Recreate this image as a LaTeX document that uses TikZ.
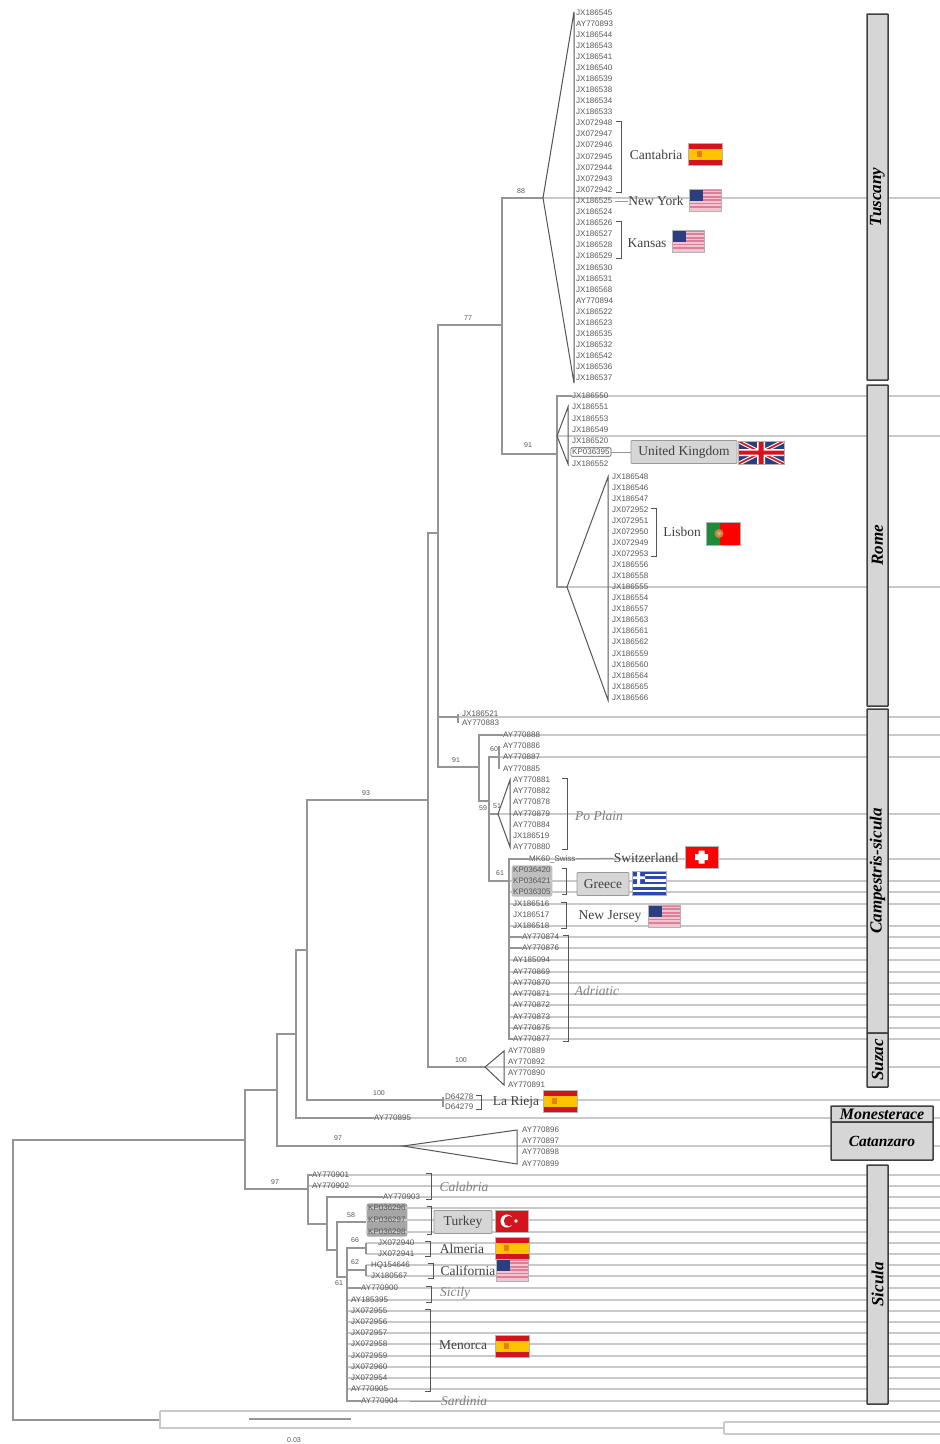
\documentclass[tikz,border=0pt]{standalone}
\usepackage{fontspec}
\usepackage{xcolor}
\usepackage{tikz}
\usetikzlibrary{backgrounds,fit}
\setmainfont{Liberation Serif}
\setsansfont{Liberation Sans}
\definecolor{rowgray}{HTML}{C9C9C9}
\definecolor{treegray}{HTML}{959595}
\definecolor{inkgray}{HTML}{555555}
\definecolor{boxgray}{HTML}{D6D6D6}
\definecolor{spred}{HTML}{D2141E}
\definecolor{spyellow}{HTML}{FFC400}
\definecolor{usblue}{HTML}{2B3F80}
\definecolor{uspink}{HTML}{DC7F98}
\definecolor{uslight}{HTML}{F2C4D0}
\definecolor{ptgreen}{HTML}{1F8A3A}
\definecolor{grblue}{HTML}{2A48B0}

\begin{document}
\begin{tikzpicture}
		[x=1pt,y=-1pt,
		leaf/.style={anchor=west,inner sep=0pt,text=inkgray,font=\sffamily\fontsize{8}{8}\selectfont},
		support/.style={inner sep=0pt,text=inkgray,font=\sffamily\fontsize{7}{7}\selectfont},
		branch/.style={draw=treegray,line width=1.4pt},
		rowline/.style={draw=rowgray,line width=1.7pt},
		cone/.style={draw=inkgray,line width=1pt},
		bracket/.style={draw=inkgray,line width=0.9pt},
		pointer/.style={draw=treegray,line width=1pt},
		place name/.style={inner sep=0pt,text=black!75,font=\fontsize{13.5}{14}\selectfont},
		lineage/.style={inner sep=0pt,text=black!50,font=\itshape\fontsize{13.5}{14}\selectfont},
		grey label/.style={draw=black!40,fill=boxgray,rounded corners=1pt,line width=0.8pt,inner sep=0pt,text=black!75,font=\fontsize{13.5}{14}\selectfont},
		clade/.style={draw=black!75,fill=boxgray,line width=1.5pt,rounded corners=0.5pt,inner sep=0pt,font=\bfseries\itshape\fontsize{17}{17}\selectfont},
		side clade/.style={clade,rotate=90,minimum height=21pt},
		highlight/.style={fill=black!35,rounded corners=2pt,inner sep=1.5pt},
		flag edge/.style={draw=black!30,line width=0.7pt},
		spainflag/.pic={
			\fill[spred] (0,0) rectangle (34,22);
			\fill[spyellow] (0,5.5) rectangle (34,16.5);
			\fill[orange!60!brown] (9,8) rectangle (14,14);
			\draw[flag edge] (0,0) rectangle (34,22);
		},
		usflag/.pic={
			\fill[uslight] (0,0) rectangle (32,22);
			\foreach \bar in {0,3.4,...,20}
				\fill[uspink] (0,\bar) rectangle (32,\bar+1.7);
			\fill[usblue] (0,0) rectangle (14,12);
			\draw[flag edge] (0,0) rectangle (32,22);
		},
		ukflag/.pic={
			\fill[usblue] (0,0) rectangle (46,23);
			\begin{scope}
				\clip (0,0) rectangle (46,23);
				\draw[white,line width=4pt] (0,0) -- (46,23) (46,0) -- (0,23);
				\draw[spred,line width=1.6pt] (0,0) -- (46,23) (46,0) -- (0,23);
			\end{scope}
			\fill[white] (19,0) rectangle (27,23) (0,8) rectangle (46,15);
			\fill[spred] (20.5,0) rectangle (25.5,23) (0,9.5) rectangle (46,13.5);
			\draw[flag edge] (0,0) rectangle (46,23);
		},
		ptflag/.pic={
			\fill[red] (0,0) rectangle (34,23);
			\fill[ptgreen] (0,0) rectangle (14,23);
			\fill[orange!70!gray] (13,11.5) circle (4.5);
			\fill[black!30] (13,11.5) circle (2);
			\draw[flag edge] (0,0) rectangle (34,23);
		},
		swissflag/.pic={
			\fill[red] (0,0) rectangle (33,22);
			\fill[white] (13.5,4.5) rectangle (19.5,17.5) (10,8) rectangle (23,14);
			\draw[flag edge] (0,0) rectangle (33,22);
		},
		greeceflag/.pic={
			\fill[white] (0,0) rectangle (34,24);
			\foreach \bar in {0,5.33,...,22}
				\fill[grblue] (0,\bar) rectangle (34,\bar+2.67);
			\fill[grblue] (0,0) rectangle (13,13.3);
			\fill[white] (5,0) rectangle (8,13.3) (0,5.3) rectangle (13,8);
			\draw[flag edge] (0,0) rectangle (34,24);
		},
		turkeyflag/.pic={
			\fill[spred] (0,0) rectangle (33,22);
			\fill[white] (12,11) circle (6.5);
			\fill[spred] (14,11) circle (5.2);
			\fill[white] (21,11) circle (1.8);
			\draw[flag edge] (0,0) rectangle (33,22);
		}]
		\path[use as bounding box] (0,0) rectangle (940,1444);
		\coordinate (rim) at (940,0);

		\foreach \lbl/\ypos in {JX186545/13,AY770893/24,JX186544/35,JX186543/46,JX186541/57,JX186540/68,JX186539/79,JX186538/90,JX186534/101,JX186533/112,JX072948/123,JX072947/134,JX072946/145,JX072945/157,JX072944/168,JX072943/179,JX072942/190,JX186525/201,JX186524/212,JX186526/223,JX186527/234,JX186528/245,JX186529/256,JX186530/268,JX186531/279,JX186568/290,AY770894/301,JX186522/312,JX186523/323,JX186535/334,JX186532/345,JX186542/356,JX186536/367,JX186537/378}
			\node[leaf] (\lbl) at (576,\ypos) {\lbl};
		\foreach \lbl/\ypos in {JX186550/396,JX186551/407,JX186553/419,JX186549/430,JX186520/441,KP036395/452,JX186552/464}
			\node[leaf] (\lbl) at (572,\ypos) {\lbl};
		\foreach \lbl/\ypos in {JX186548/477,JX186546/488,JX186547/499,JX072952/510,JX072951/521,JX072950/532,JX072949/543,JX072953/554,JX186556/565,JX186558/576,JX186555/587,JX186554/598,JX186557/609,JX186563/620,JX186561/631,JX186562/642,JX186559/654,JX186560/665,JX186564/676,JX186565/687,JX186566/698}
			\node[leaf] (\lbl) at (612,\ypos) {\lbl};
		\foreach \lbl/\ypos in {JX186521/714,AY770883/723}
			\node[leaf] (\lbl) at (462,\ypos) {\lbl};
		\foreach \lbl/\ypos in {AY770888/735,AY770886/746,AY770887/757,AY770885/769}
			\node[leaf] (\lbl) at (503,\ypos) {\lbl};
		\foreach \lbl/\ypos in {AY770881/780,AY770882/791,AY770878/802,AY770879/814,AY770884/825,JX186519/836,AY770880/847,KP036420/870,KP036421/881,KP036305/892,JX186516/904,JX186517/915,JX186518/926,AY185094/960,AY770869/972,AY770870/983,AY770871/994,AY770872/1005,AY770873/1017,AY770875/1028,AY770877/1039}
			\node[leaf] (\lbl) at (513,\ypos) {\lbl};
		\node[leaf] (MK60) at (529,859) {MK60\_Swiss};
		\foreach \lbl/\ypos in {AY770874/937,AY770876/948,AY770896/1130,AY770897/1141,AY770898/1152,AY770899/1164}
			\node[leaf] (\lbl) at (522,\ypos) {\lbl};
		\foreach \lbl/\ypos in {AY770889/1051,AY770892/1062,AY770890/1073,AY770891/1085}
			\node[leaf] (\lbl) at (508,\ypos) {\lbl};
		\foreach \lbl/\ypos in {D64278/1097,D64279/1107}
			\node[leaf] (\lbl) at (445,\ypos) {\lbl};
		\node[leaf] (AY770895) at (374,1118) {AY770895};
		\foreach \lbl/\ypos in {AY770901/1175,AY770902/1186}
			\node[leaf] (\lbl) at (312,\ypos) {\lbl};
		\node[leaf] (AY770903) at (383,1197) {AY770903};
		\foreach \lbl/\ypos in {KP036296/1208,KP036297/1220,KP036298/1232}
			\node[leaf] (\lbl) at (368,\ypos) {\lbl};
		\foreach \lbl/\ypos in {JX072940/1243,JX072941/1254}
			\node[leaf] (\lbl) at (378,\ypos) {\lbl};
		\foreach \lbl/\ypos in {HQ154646/1265,JX180567/1276}
			\node[leaf] (\lbl) at (371,\ypos) {\lbl};
		\foreach \lbl/\ypos in {AY770900/1288,AY770904/1401}
			\node[leaf] (\lbl) at (361,\ypos) {\lbl};
		\foreach \lbl/\ypos in {AY185395/1300,JX072955/1311,JX072956/1322,JX072957/1333,JX072958/1344,JX072959/1356,JX072960/1367,JX072954/1378,AY770905/1389}
			\node[leaf] (\lbl) at (351,\ypos) {\lbl};

		\coordinate (root) at (13,1280);
		\coordinate (n245) at (245,1140);
		\coordinate (outgrp) at (160,1420);
		\coordinate (outtop) at (160,1411);
		\coordinate (outlow) at (160,1428);
		\coordinate (n724) at (724,1428);
		\coordinate (n724a) at (724,1422);
		\coordinate (n724b) at (724,1434);
		\coordinate (n277) at (277,1090);
		\coordinate (n308) at (308,1189);
		\coordinate (n296) at (296,1034);
		\coordinate (catA) at (403,1146);
		\coordinate (n307) at (307,950);
		\coordinate (n428) at (428,800);
		\coordinate (n443) at (443,1100);
		\coordinate (n438) at (438,533);
		\coordinate (suzA) at (485,1067);
		\coordinate (n502) at (502,325);
		\coordinate (n458) at (458,717);
		\coordinate (n479) at (479,767);
		\coordinate (tusA) at (543,198);
		\coordinate (n557) at (557,454);
		\coordinate (romA) at (557,436);
		\coordinate (romB) at (567,587);
		\coordinate (n489) at (489,801);
		\coordinate (n499) at (499,757);
		\coordinate (poA) at (498,814);
		\coordinate (n509) at (509,881);
		\coordinate (n327) at (327,1224);
		\coordinate (n337) at (337,1250);
		\coordinate (n366) at (366,1222);
		\coordinate (n347) at (347,1277);
		\coordinate (nAlm) at (366,1248);
		\coordinate (nCal) at (366,1270);
		\coordinate (scaleL) at (249,1419);
		\coordinate (scaleR) at (351,1419);

		\begin{scope}[on background layer]
			\node[highlight,fit=(KP036296)(KP036298)] (turkeyseq) {};
			\node[highlight,fill=black!25,fit=(KP036420)(KP036305)] (greeceseq) {};
			\foreach \from in {tusA,romA,romB,n458,n499,poA,suzA,n443,catA,outtop,n724a,n724b}
				\draw[rowline] (\from) -- (rim |- \from);
			\draw[rowline] (JX186550.west) -- (rim |- JX186550.west);
			\draw[rowline] (AY770888.west) -- (rim |- AY770888.west);
			\draw[rowline] (AY770895.west) -- (rim |- AY770895.west);
			\foreach \lbl in {MK60,KP036421,KP036305,JX186516,JX186518,AY770874,AY770876,AY185094,AY770869,AY770870,AY770871,AY770872,AY770873,AY770875,AY770877}
				\draw[rowline] (n509 |- \lbl.west) -- (rim |- \lbl.west);
			\foreach \lbl in {AY770901,AY770902}
				\draw[rowline] (n308 |- \lbl.west) -- (rim |- \lbl.west);
			\draw[rowline] (n327 |- AY770903.west) -- (rim |- AY770903.west);
			\foreach \lbl in {KP036296,KP036297,KP036298,JX072940,JX072941,HQ154646,JX180567}
				\draw[rowline] (n366 |- \lbl.west) -- (rim |- \lbl.west);
			\foreach \lbl in {AY770900,AY185395,JX072955,JX072956,JX072957,JX072958,JX072959,JX072960,JX072954,AY770905,AY770904}
				\draw[rowline] (n347 |- \lbl.west) -- (rim |- \lbl.west);
		\end{scope}

		\draw[branch] (root) |- (n245);
		\draw[branch] (root) |- (outgrp);
		\draw[rowline] (outtop) -- (outlow) -- (n724);
		\draw[rowline] (n724a) -- (n724b);
		\draw[branch] (n245) |- (n277);
		\draw[branch] (n245) |- (n308);
		\draw[branch] (n277) |- (n296);
		\draw[branch] (n277) |- (catA);
		\draw[branch] (n296) |- (n307);
		\draw[branch] (n296) |- (AY770895.west);
		\draw[branch] (n307) |- (n428);
		\draw[branch] (n307) |- (n443);
		\draw[branch] (n428) |- (n438);
		\draw[branch] (n428) |- (suzA);
		\draw[branch] (n438) |- (n502);
		\draw[branch] (n438) |- (n458);
		\draw[branch] (n438) |- (n479);
		\draw[branch] (n502) |- (tusA);
		\draw[branch] (n502) |- (n557);
		\draw[branch] (n557) |- (JX186550.west);
		\draw[branch] (n557) |- (romB);
		\draw[branch] (n479) |- (AY770888.west);
		\draw[branch] (n479) |- (n489);
		\draw[branch] (n489) |- (n499);
		\draw[branch] (n489) |- (poA);
		\draw[branch] (n489) |- (n509);
		\draw[branch] (n509) |- (MK60.west);
		\draw[branch] (n509) |- (AY770877.west);
		\draw[branch] (n509 |- AY770874.west) -- (AY770874.west);
		\draw[branch] (n509 |- AY770876.west) -- (AY770876.west);
		\draw[branch] (n308) |- (AY770901.west);
		\draw[branch] (n308) |- (n327);
		\draw[branch] (n327) |- (AY770903.west);
		\draw[branch] (n327) |- (n337);
		\draw[branch] (n337) |- (n366);
		\draw[branch] (n337) |- (n347);
		\draw[branch] (n347) |- (nAlm);
		\draw[branch] (n347) |- (nCal);
		\draw[branch] (n347) |- (AY770904.west);
		\draw[branch] (n347 |- AY770900.west) -- (AY770900.west);
		\draw[branch] (n458 |- JX186521.west) -- (n458 |- AY770883.west);
		\draw[branch] (n499 |- AY770886.west) -- (n499 |- AY770885.west);
		\draw[branch] (n443 |- D64278.west) -- (n443 |- D64279.west);
		\draw[branch] (nAlm |- JX072940.west) -- (nAlm |- JX072941.west);
		\draw[branch] (nCal |- HQ154646.west) -- (nCal |- JX180567.west);
		\draw[branch] (scaleL) -- (scaleR);

		\draw[cone] (tusA) -- ([xshift=-2pt,yshift=1pt]JX186545.west) -- ([xshift=-2pt,yshift=-5pt]JX186537.west) -- cycle;
		\draw[cone] (romA) -- ([xshift=-4pt]JX186551.west) -- ([xshift=-4pt]JX186552.west) -- cycle;
		\draw[cone] (romB) -- ([xshift=-4pt]JX186548.west) -- ([xshift=-4pt,yshift=-2pt]JX186566.west) -- cycle;
		\draw[cone] (poA) -- ([xshift=-3pt]AY770881.west) -- ([xshift=-3pt]AY770880.west) -- cycle;
		\draw[cone] (suzA) -- ([xshift=-4pt]AY770889.west) -- ([xshift=-4pt]AY770891.west) -- cycle;
		\draw[cone] (catA) -- ([xshift=-5pt]AY770896.west) -- ([xshift=-5pt]AY770899.west) -- cycle;

		\node[draw=inkgray,line width=0.6pt,rounded corners=1pt,inner sep=1.2pt,fit=(KP036395)] (ukseq) {};

		\node[support] (b88) at (521,191) {88};
		\node[support] (b77) at (468,318) {77};
		\node[support] (b91a) at (528,445) {91};
		\node[support] (b93) at (366,793) {93};
		\node[support] (b91b) at (456,760) {91};
		\node[support] (b60) at (494,749) {60};
		\node[support] (b59) at (483,808) {59};
		\node[support] (b51) at (497,806) {51};
		\node[support] (b61a) at (500,873) {61};
		\node[support] (b100a) at (461,1060) {100};
		\node[support] (b100b) at (379,1093) {100};
		\node[support] (b97a) at (338,1138) {97};
		\node[support] (b97b) at (275,1182) {97};
		\node[support] (b58) at (351,1215) {58};
		\node[support] (b66) at (355,1240) {66};
		\node[support] (b62) at (355,1262) {62};
		\node[support] (b61b) at (339,1283) {61};
		\node[support] (scalelabel) at (294,1440) {0.03};

		\foreach \first/\last/\gap in {JX072948/JX072942/9,JX186526/JX186529/9,JX072952/JX072953/8,AY770881/AY770880/17,KP036420/KP036305/16,JX186516/JX186518/17,AY770874/AY770877/9,D64278/D64279/8,AY770901/AY770903/82,KP036296/KP036298/26,JX072940/JX072941/16,HQ154646/JX180567/23,AY770900/AY185395/33,JX072955/AY770905/43}
			\draw[bracket] ([xshift=\gap pt-5pt,yshift=2pt]\first.east) -- ([xshift=\gap pt,yshift=2pt]\first.east) -- ([xshift=\gap pt,yshift=-2pt]\first.east |- \last.east) -- ([xshift=\gap pt-5pt,yshift=-2pt]\first.east |- \last.east);

		\node[place name] (cantabria) at (656,155) {Cantabria};
		\node[place name] (newyork) at (656,201) {New York};
		\node[place name] (kansas) at (647,243) {Kansas};
		\node[grey label,minimum width=106pt,minimum height=23pt] (uk) at (684,452) {United Kingdom};
		\node[place name] (lisbon) at (682,532) {Lisbon};
		\node[lineage] (poplain) at (599,816) {Po Plain};
		\node[place name] (switzerland) at (646,858) {Switzerland};
		\node[grey label,minimum width=52pt,minimum height=23pt] (greece) at (603,884) {Greece};
		\node[place name] (newjersey) at (610,917) {New Jersey};
		\node[lineage] (adriatic) at (597,991) {Adriatic};
		\node[place name] (larieja) at (516,1102) {La Rieja};
		\node[lineage] (calabria) at (464,1187) {Calabria};
		\node[grey label,minimum width=58pt,minimum height=23pt] (turkey) at (463,1222) {Turkey};
		\node[place name] (almeria) at (462,1249) {Almeria};
		\node[place name] (california) at (468,1271) {California};
		\node[lineage] (sicily) at (455,1293) {Sicily};
		\node[place name] (menorca) at (463,1345) {Menorca};
		\node[lineage] (sardinia) at (464,1401) {Sardinia};

		\draw[pointer] ([xshift=3pt]JX186525.east) -- (newyork.west);
		\draw[pointer] (ukseq) -- (uk);
		\draw[pointer] (MK60) -- (switzerland);
		\draw[pointer] ([xshift=12pt]AY770904.east) -- (sardinia);

		\pic at (688,143) {spainflag};
		\pic at (689,189) {usflag};
		\pic at (672,230) {usflag};
		\pic at (738,441) {ukflag};
		\pic at (706,522) {ptflag};
		\pic at (685,846) {swissflag};
		\pic at (632,871) {greeceflag};
		\pic at (648,905) {usflag};
		\pic at (543,1090) {spainflag};
		\pic at (495,1210) {turkeyflag};
		\pic at (495,1237) {spainflag};
		\pic at (496,1259) {usflag};
		\pic at (495,1335) {spainflag};

		\node[side clade,minimum width=366pt] (tuscany) at (877.5,197) {Tuscany};
		\node[side clade,minimum width=321pt] (rome) at (877.5,545.5) {Rome};
		\node[side clade,minimum width=324pt] (campestris) at (877.5,871) {Campestris-sicula};
		\node[side clade,minimum width=54pt] (suzac) at (877.5,1060) {Suzac};
		\node[clade,minimum width=102pt,minimum height=16pt,font=\bfseries\itshape\fontsize{16}{16}\selectfont] (monesterace) at (882,1114) {Monesterace};
		\node[clade,minimum width=102pt,minimum height=38pt,font=\bfseries\itshape\fontsize{15.5}{16}\selectfont] (catanzaro) at (882,1141) {Catanzaro};
		\node[side clade,minimum width=239pt] (sicula) at (877.5,1284.5) {Sicula};
		\end{tikzpicture}
\end{document}
